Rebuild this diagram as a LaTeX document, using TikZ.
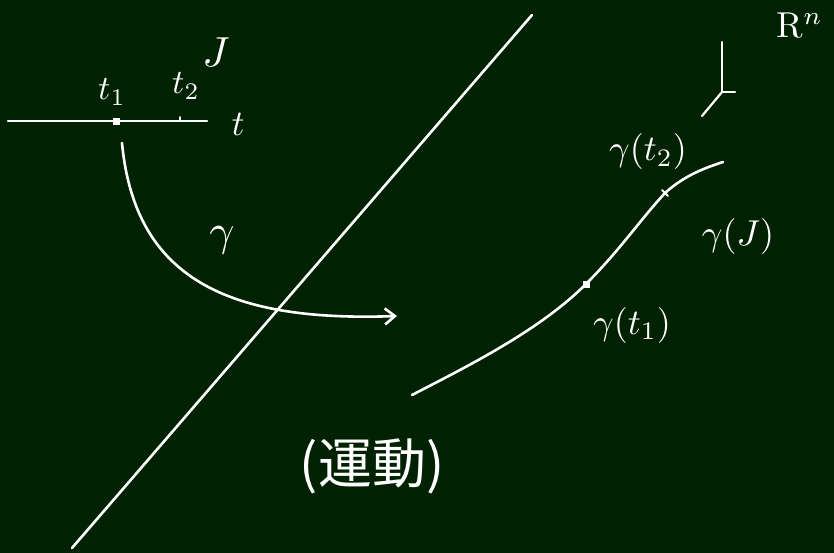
\documentclass[tikz,border=0pt]{standalone}
\usepackage{fontspec}
\newfontfamily\cjk{Noto Sans CJK JP}
\usetikzlibrary{arrows.meta,calc}
\definecolor{board}{HTML}{012201}
\tikzset{
  chalk/.style={draw=white, line width=2.6pt, line cap=round, line join=round},
  lbl/.style={text=white, inner sep=0pt},
  dotmark/.style={fill=white, draw=white, minimum size=6pt, inner sep=0pt, rectangle}
}
\begin{document}
\begin{tikzpicture}[x=1pt,y=-1pt]
\fill[board] (0,0) rectangle (834,553);
\useasboundingbox (0,0) rectangle (834,553);
% parameter line
\coordinate (lineL) at (8,121);
\coordinate (lineR) at (207,121);
\draw[chalk] (lineL) -- (lineR);
\node[dotmark] (t1pt) at (116,121) {};
\coordinate (t2pt) at (180,121);
\draw[chalk, line width=1.8pt] (t2pt) -- ++(0,-4);
\node[lbl] (t1lbl) at (112,92) {\scalebox{3.4}{$t_1$}};
\node[lbl] (t2lbl) at (186,86) {\scalebox{3.4}{$t_2$}};
\node[lbl] (Jlbl) at (216,52) {\scalebox{4.2}{$J$}};
\node[lbl] (tlbl) at (238,124) {\scalebox{3.6}{$t$}};
% diagonal separator
\coordinate (dA) at (72,548);
\coordinate (dB) at (532,15);
\draw[chalk] (dA) -- (dB);
% map arrow
\coordinate (arrS) at (122,143);
\coordinate (arrE) at (397,316);
\draw[chalk, -{Straight Barb[length=10pt,width=16pt]}] (arrS) .. controls (135,280) and (230,322) .. (arrE);
\node[lbl] (gam) at (222,240) {\scalebox{4.4}{$\gamma$}};
% axes symbol
\coordinate (ax0) at (722,92);
\coordinate (axz) at (722,42);
\coordinate (axy) at (735,92);
\coordinate (axx) at (702,116);
\draw[chalk, line width=2.2pt] (axz) -- (ax0) -- (axy);
\draw[chalk, line width=2.2pt] (ax0) -- (axx);
\node[lbl] (Rn) at (800,26) {\scalebox{3.6}{$\mathrm{R}^n$}};
% image curve
\coordinate (cS) at (412,395);
\coordinate (cE) at (723,162);
\node[dotmark] (g1pt) at (586,284) {};
\coordinate (g2pt) at (665,193);
\draw[chalk] (cS) .. controls (470,365) and (540,330) .. (g1pt.center)
  .. controls (620,250) and (640,220) .. (g2pt)
  .. controls (685,175) and (705,168) .. (cE);
\draw[chalk, line width=1.8pt] ($(g2pt)+(-3,-3)$) -- ($(g2pt)+(3,3)$);
\node[lbl] (g2lbl) at (648,152) {\scalebox{3.6}{$\gamma(t_2)$}};
\node[lbl] (gJlbl) at (738,236) {\scalebox{3.6}{$\gamma(J)$}};
\node[lbl] (g1lbl) at (632,325) {\scalebox{3.6}{$\gamma(t_1)$}};
\node[lbl, font=\fontsize{54}{60}\selectfont] (undo) at (372,466) {\cjk (運動)};
\end{tikzpicture}
\end{document}
